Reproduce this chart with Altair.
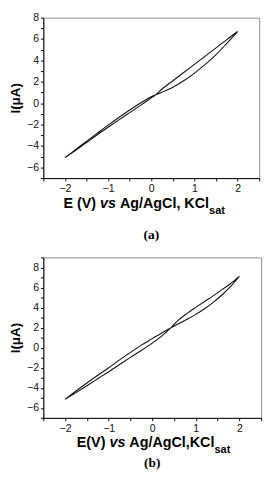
import altair as alt
import pandas as pd

# ---------------- data ----------------
# panel (a): forward scan -2 V -> 2 V, then reverse scan 2 V -> -2 V
E_A_FWD = [-2.0, -1.75, -1.5, -1.25, -1.0, -0.75, -0.5, -0.25, 0.0, 0.1, 0.25, 0.5, 0.75, 1.0, 1.25, 1.5, 1.75, 2.0]
I_A_FWD = [-5.1, -4.32, -3.56, -2.8, -2.05, -1.33, -0.63, 0.02, 0.6, 0.78, 1.03, 1.5, 2.1, 2.82, 3.63, 4.55, 5.6, 6.7]
E_A_REV = [2.0, 1.75, 1.5, 1.25, 1.0, 0.75, 0.5, 0.25, 0.1, 0.0, -0.25, -0.5, -0.75, -1.0, -1.25, -1.5, -1.75, -2.0]
I_A_REV = [6.7, 5.95, 5.17, 4.4, 3.63, 2.87, 2.1, 1.33, 0.78, 0.5, -0.2, -0.88, -1.56, -2.25, -2.95, -3.68, -4.4, -5.1]

# panel (b)
E_B_FWD = [-2.0, -1.75, -1.5, -1.25, -1.0, -0.75, -0.5, -0.25, 0.0, 0.2, 0.42, 0.6, 0.8, 1.0, 1.2, 1.4, 1.6, 1.8, 2.0]
I_B_FWD = [-5.15, -4.32, -3.52, -2.75, -2.0, -1.22, -0.47, 0.25, 0.9, 1.42, 1.95, 2.38, 2.83, 3.32, 3.88, 4.52, 5.25, 6.1, 7.1]
E_B_REV = [2.0, 1.8, 1.6, 1.4, 1.2, 1.0, 0.8, 0.6, 0.42, 0.2, 0.0, -0.25, -0.5, -0.75, -1.0, -1.25, -1.5, -1.75, -2.0]
I_B_REV = [7.1, 6.4, 5.78, 5.17, 4.6, 4.02, 3.42, 2.75, 1.95, 1.1, 0.45, -0.28, -0.97, -1.68, -2.4, -3.1, -3.8, -4.48, -5.15]

X_DOMAIN = [-2.5, 2.5]
X_TICKS = [-2.5, -2.0, -1.5, -1.0, -0.5, 0.0, 0.5, 1.0, 1.5, 2.0, 2.5]
Y_DOMAIN_A = [-7, 8]
Y_DOMAIN_B = [-7, 9]
Y_TICKS_A = list(range(-7, 9))
Y_TICKS_B = list(range(-7, 10))

Y_TITLE = "I(μA)"
TITLE_A = ["E (V) ", "vs", " Ag/AgCl, KCl", "sat"]
TITLE_B = ["E(V) ", "vs", " Ag/AgCl,KCl", "sat"]
PANEL_LABELS = ["(a)", "(b)"]

FONT = "Liberation Sans"
SERIF = "Liberation Serif"

# Arial/Liberation Sans Bold advance widths (per 1000 em) for laying out the title pieces
CW = {' ': 278, '(': 333, ')': 333, 'E': 667, 'V': 667, 'v': 556, 's': 556, 'A': 722,
      'g': 611, '/': 278, 'C': 722, 'l': 278, ',': 278, 'K': 722, 'a': 556, 't': 333}


def tw(s, size):
    return sum(CW.get(c, 556) for c in s) * size / 1000.0


def text_layer(txt, x, y, size, weight="bold", style="normal", font=FONT, align="left"):
    return alt.Chart(pd.DataFrame({"t": [txt]})).mark_text(
        align=align, baseline="alphabetic", font=font, fontSize=size,
        fontWeight=weight, fontStyle=style, color="#000000"
    ).encode(text="t:N", x=alt.value(x), y=alt.value(y))


def panel(e_f, i_f, e_r, i_r, ydom, yticks, w, h, parts, x0, base_y, sub_y, label, label_y):
    E = e_f + e_r
    I = i_f + i_r
    df = pd.DataFrame({"E": E, "I": I, "k": list(range(len(E)))})
    line = alt.Chart(df).mark_line(color="#111111", strokeWidth=1.1,
                                   interpolate="catmull-rom").encode(
        x=alt.X("E:Q", scale=alt.Scale(domain=X_DOMAIN, nice=False, zero=False),
                axis=alt.Axis(values=X_TICKS, title=None,
                              labelExpr="datum.value % 1 === 0 ? format(datum.value, 'd') : ''")),
        y=alt.Y("I:Q", scale=alt.Scale(domain=ydom, nice=False, zero=False),
                axis=alt.Axis(values=yticks, title=Y_TITLE,
                              labelExpr="datum.value % 2 === 0 ? format(datum.value, 'd') : ''")),
        order="k:Q",
    )
    layers = [line]
    fs, sfs = 15, 11.5
    x = x0
    for j, seg in enumerate(parts):
        size = sfs if j == 3 else fs
        lead = len(seg) - len(seg.lstrip(" "))
        xs = x + tw(" " * lead, size)
        layers.append(text_layer(seg.strip(" "), xs, sub_y if j == 3 else base_y, size,
                                 style="italic" if j == 1 else "normal"))
        x += tw(seg, size)
    layers.append(text_layer(label, w / 2, label_y, 14, font=SERIF, align="center"))
    return alt.layer(*layers).properties(width=w, height=h)


pa = panel(E_A_FWD, I_A_FWD, E_A_REV, I_A_REV, Y_DOMAIN_A, Y_TICKS_A, 226, 168,
           TITLE_A, 21, 199, 206, PANEL_LABELS[0], 232)
pb = panel(E_B_FWD, I_B_FWD, E_B_REV, I_B_REV, Y_DOMAIN_B, Y_TICKS_B, 228, 168,
           TITLE_B, 35, 198, 205, PANEL_LABELS[1], 219)

chart = alt.vconcat(pa, pb, spacing=83, bounds="flush").properties(
    padding={"left": 0, "top": -8, "right": 2, "bottom": 0}
).configure_view(
    stroke="#8a8a8a", strokeWidth=1
).configure_axis(
    domainColor="#000000", domainWidth=1, tickColor="#000000", tickSize=3, tickWidth=1,
    labelFont=FONT, labelFontSize=11, labelColor="#111111", labelPadding=2,
    titleFont=FONT, titleFontSize=14, titleFontWeight="bold", titleColor="#000000",
    titlePadding=4, grid=False
)

chart.save("out.html", embed_options={"renderer": "svg", "actions": False})
